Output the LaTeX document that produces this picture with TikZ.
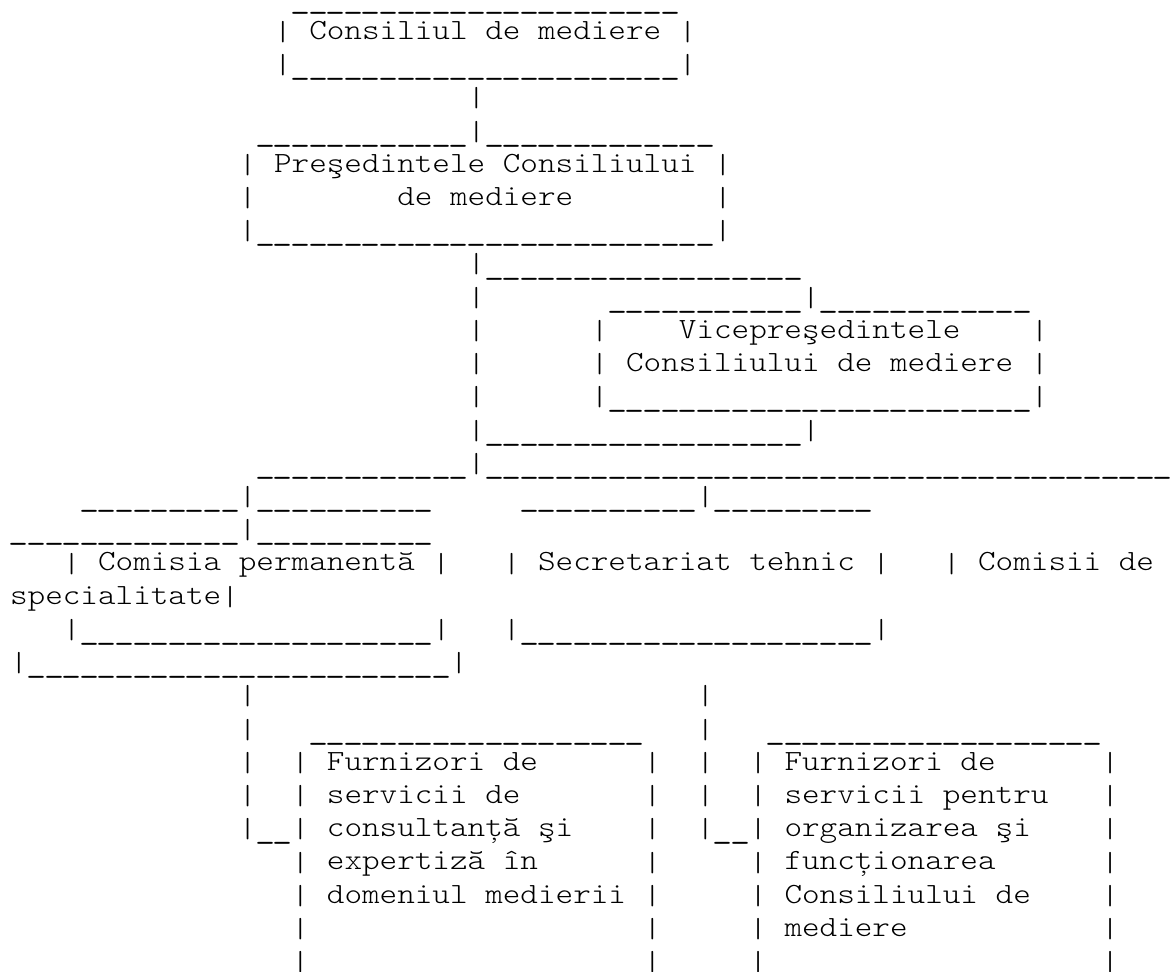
\documentclass[tikz,border=0pt]{standalone}
\usepackage{fontspec}
\usepackage{graphicx}
\newfontfamily\monof{lmmonolt10-regular.otf}[FakeStretch=1.1429]
\newcount\uscnt
\newcommand\vbar{\raisebox{-3.5pt}{\resizebox{17.6pt}{21.5pt}{\raisebox{\depth}{|}}}}
\newcommand\usc{\makebox[17.6pt]{\raisebox{-8pt}{\scalebox{1.14}[1.3]{\raisebox{\depth}{\textunderscore}}}}}
\newcommand\us[1]{\uscnt=#1\relax\loop\ifnum\uscnt>0 \usc\advance\uscnt-1\relax\repeat}
\begingroup\lccode`\~=`\|\lowercase{\endgroup\def~}{\vbar}
\newcommand\putrow[4]{\node[txt] (#1) at ({(10.1+17.6*#3)*1pt},{-(6+33.23*#2)*1pt}) {#4};}
\tikzset{txt/.style={inner sep=0pt, outer sep=0pt, anchor=base west, text=black,
  font=\monof\fontsize{29.33}{33.23}\selectfont}}
\begin{document}
\catcode`\|=\active
\begin{tikzpicture}
\fill[white] (0,0) rectangle (1176pt,-972pt);
\useasboundingbox (0,0) rectangle (1176pt,-972pt);
\putrow{r0}{0}{16}{\us{22}}
\putrow{r1}{1}{15}{| Consiliul de mediere |}
\putrow{r2}{2}{15}{|\us{22}|}
\putrow{r3}{3}{26}{|}
\putrow{r4}{4}{14}{\us{12}|\us{13}}
\putrow{r5}{5}{13}{| Preşedintele Consiliului |}
\putrow{r6a}{6}{13}{|}
\putrow{r6b}{6}{22}{de mediere}
\putrow{r6c}{6}{40}{|}
\putrow{r7}{7}{13}{|\us{26}|}
\putrow{r8}{8}{26}{|\us{18}}
\putrow{r9a}{9}{26}{|}
\putrow{r9b}{9}{34}{\us{11}|\us{12}}
\putrow{r10a}{10}{26}{|}
\putrow{r10b}{10}{33}{|}
\putrow{r10c}{10}{38}{Vicepreşedintele}
\putrow{r10d}{10}{58}{|}
\putrow{r11a}{11}{26}{|}
\putrow{r11b}{11}{33}{| Consiliului de mediere |}
\putrow{r12a}{12}{26}{|}
\putrow{r12b}{12}{33}{|\us{24}|}
\putrow{r13}{13}{26}{|\us{18}|}
\putrow{r14}{14}{14}{\us{12}|\us{39}}
\putrow{r15a}{15}{4}{\us{9}|\us{10}}
\putrow{r15b}{15}{29}{\us{10}|\us{9}}
\putrow{r16}{16}{0}{\us{13}|\us{10}}
\putrow{r17a}{17}{3}{| Comisia permanentă |}
\putrow{r17b}{17}{28}{| Secretariat tehnic |}
\putrow{r17c}{17}{53}{| Comisii de}
\putrow{r18}{18}{0}{specialitate|}
\putrow{r19a}{19}{3}{|\us{20}|}
\putrow{r19b}{19}{28}{|\us{20}|}
\putrow{r20}{20}{0}{|\us{24}|}
\putrow{r21a}{21}{13}{|}
\putrow{r21b}{21}{39}{|}
\putrow{r22a}{22}{13}{|}
\putrow{r22b}{22}{17}{\us{19}}
\putrow{r22c}{22}{39}{|}
\putrow{r22d}{22}{43}{\us{19}}
\putrow{r23a}{23}{13}{|}
\putrow{r23b}{23}{16}{| Furnizori de}
\putrow{r23c}{23}{36}{|}
\putrow{r23d}{23}{39}{|}
\putrow{r23e}{23}{42}{| Furnizori de}
\putrow{r23f}{23}{62}{|}
\putrow{r24a}{24}{13}{|}
\putrow{r24b}{24}{16}{| servicii de}
\putrow{r24c}{24}{36}{|}
\putrow{r24d}{24}{39}{|}
\putrow{r24e}{24}{42}{| servicii pentru}
\putrow{r24f}{24}{62}{|}
\putrow{r25a}{25}{13}{|\us{2}| consultanță şi}
\putrow{r25c}{25}{36}{|}
\putrow{r25d}{25}{39}{|\us{2}| organizarea şi}
\putrow{r25f}{25}{62}{|}
\putrow{r26b}{26}{16}{| expertiză în}
\putrow{r26c}{26}{36}{|}
\putrow{r26e}{26}{42}{| funcționarea}
\putrow{r26f}{26}{62}{|}
\putrow{r27b}{27}{16}{| domeniul medierii |}
\putrow{r27e}{27}{42}{| Consiliului de}
\putrow{r27f}{27}{62}{|}
\putrow{r28b}{28}{16}{|}
\putrow{r28c}{28}{36}{|}
\putrow{r28e}{28}{42}{| mediere}
\putrow{r28f}{28}{62}{|}
\putrow{r29b}{29}{16}{|}
\putrow{r29c}{29}{36}{|}
\putrow{r29e}{29}{42}{|}
\putrow{r29f}{29}{62}{|}
\end{tikzpicture}
\end{document}
